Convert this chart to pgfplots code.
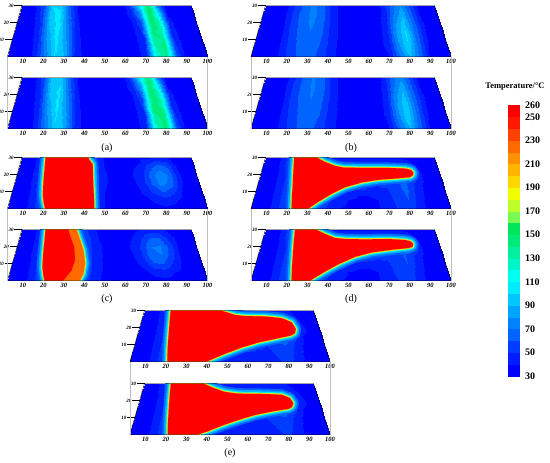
\documentclass[border=0pt]{standalone}
\usepackage{fontspec}
\setmainfont{Liberation Serif}
\usepackage{pgfplots}
\usepackage{pgfplotstable}
\pgfplotsset{compat=1.18}
\pgfkeys{/pgf/number format/assume math mode=true}

\definecolor{hA}{RGB}{0,100,255}
\definecolor{hB}{RGB}{0,165,255}
\definecolor{hC}{RGB}{0,235,255}
\definecolor{hD}{RGB}{190,255,40}
\definecolor{hE}{RGB}{255,180,0}
\definecolor{hot}{RGB}{255,0,0}
\definecolor{warm}{RGB}{255,105,0}

\pgfplotsset{
  colormap={temp}{
    rgb255(30pt)=(0,0,255) rgb255(40pt)=(0,30,255) rgb255(50pt)=(0,60,255)
    rgb255(60pt)=(0,100,255) rgb255(70pt)=(0,130,255) rgb255(80pt)=(0,165,255)
    rgb255(90pt)=(0,200,255) rgb255(100pt)=(0,235,255) rgb255(110pt)=(0,255,240)
    rgb255(120pt)=(0,245,200) rgb255(130pt)=(0,240,160) rgb255(140pt)=(0,235,120)
    rgb255(150pt)=(0,230,90) rgb255(160pt)=(120,250,80) rgb255(170pt)=(190,255,40)
    rgb255(180pt)=(240,255,0) rgb255(190pt)=(255,215,0) rgb255(200pt)=(255,180,0)
    rgb255(210pt)=(255,145,0) rgb255(220pt)=(255,105,0) rgb255(230pt)=(255,65,0)
    rgb255(240pt)=(255,25,0) rgb255(250pt)=(255,0,0) rgb255(260pt)=(255,0,0)},
  table/tx/.style={x expr={2.5+0.2357*\thisrow{y}+(\thisrow{x}-2.5)*(1-0.00517*\thisrow{y})}, y=y},
  panel/.style={
    scale only axis, width=200pt, height=51pt, anchor=south west,
    xmin=2.5, xmax=100, ymin=0, ymax=30,
    axis x line*=bottom, axis y line=none,
    x axis line style={draw=none}, xtick style={draw=none},
    xtick={10,20,...,100},
    xticklabel style={font=\fontsize{6.5}{7}\selectfont\bfseries\itshape, yshift=1pt},
    clip=true, clip mode=individual,
    colormap name=temp, colormap access=piecewise constant,
    point meta min=30, point meta max=260,
  },
}

% background fields: x y upper lower
\pgfplotstableread{
x y u l
2.5 0 33 33
10 0 33 33
15 0 42 41
20 0 70 68
25 0 100 98
30 0 90 88
35 0 50 49
40 0 36 36
45 0 33 33
50 0 33 33
55 0 33 33
60 0 34 34
65 0 36 36
70 0 45 47
75 0 120 125
80 0 140 145
85 0 58 58
90 0 35 35
95 0 33 33
100 0 33 33
2.5 5 33 33
10 5 33 33
15 5 43 42
20 5 75 73
25 5 102 100
30 5 85 84
35 5 47 46
40 5 35 35
45 5 33 33
50 5 33 33
55 5 33 33
60 5 34 34
65 5 36 36
70 5 46 48
75 5 128 132
80 5 142 145
85 5 55 55
90 5 35 35
95 5 33 33
100 5 33 33
2.5 10 33 33
10 10 33 33
15 10 45 44
20 10 80 78
25 10 104 102
30 10 80 80
35 10 45 45
40 10 35 35
45 10 33 33
50 10 33 33
55 10 33 33
60 10 34 34
65 10 37 37
70 10 48 50
75 10 135 140
80 10 140 142
85 10 52 52
90 10 35 35
95 10 33 33
100 10 33 33
2.5 15 33 33
10 15 34 34
15 15 47 46
20 15 86 84
25 15 105 103
30 15 75 75
35 15 43 43
40 15 34 34
45 15 33 33
50 15 33 33
55 15 33 33
60 15 34 34
65 15 38 38
70 15 52 54
75 15 142 146
80 15 135 135
85 15 48 48
90 15 34 34
95 15 33 33
100 15 33 33
2.5 20 33 33
10 20 34 34
15 20 50 49
20 20 92 90
25 20 104 102
30 20 70 70
35 20 42 42
40 20 34 34
45 20 33 33
50 20 33 33
55 20 33 33
60 20 35 35
65 20 40 40
70 20 60 62
75 20 148 150
80 20 125 124
85 20 45 45
90 20 34 34
95 20 33 33
100 20 33 33
2.5 25 33 33
10 25 36 36
15 25 55 54
20 25 98 96
25 25 102 100
30 25 65 65
35 25 40 40
40 25 34 34
45 25 33 33
50 25 33 33
55 25 33 33
60 25 35 35
65 25 45 46
70 25 80 82
75 25 152 150
80 25 105 104
85 25 40 40
90 25 34 34
95 25 33 33
100 25 33 33
2.5 30 33 33
10 30 38 38
15 30 60 58
20 30 100 98
25 30 98 96
30 30 60 60
35 30 40 40
40 30 34 34
45 30 33 33
50 30 33 33
55 30 33 33
60 30 36 36
65 30 52 53
70 30 100 102
75 30 152 150
80 30 85 84
85 30 38 38
90 30 34 34
95 30 33 33
100 30 33 33
}\tabA

\pgfplotstableread{
x y u l
2.5 0 33 33
10 0 34 34
15 0 40 40
20 0 52 51
25 0 62 61
30 0 65 64
35 0 58 57
40 0 46 45
45 0 38 38
50 0 35 35
55 0 34 34
60 0 34 34
65 0 36 36
70 0 40 40
75 0 70 68
80 0 92 90
85 0 65 63
90 0 40 40
95 0 34 34
100 0 33 33
2.5 5 33 33
10 5 34 34
15 5 40 40
20 5 53 52
25 5 63 62
30 5 66 65
35 5 60 59
40 5 47 46
45 5 38 38
50 5 35 35
55 5 34 34
60 5 34 34
65 5 36 36
70 5 42 41
75 5 75 73
80 5 98 96
85 5 68 66
90 5 40 40
95 5 34 34
100 5 33 33
2.5 10 33 33
10 10 34 34
15 10 40 40
20 10 54 53
25 10 64 63
30 10 68 67
35 10 62 61
40 10 48 47
45 10 38 38
50 10 35 35
55 10 34 34
60 10 34 34
65 10 37 37
70 10 43 42
75 10 78 76
80 10 100 98
85 10 70 68
90 10 41 41
95 10 34 34
100 10 33 33
2.5 15 33 33
10 15 34 34
15 15 40 40
20 15 55 54
25 15 65 64
30 15 70 69
35 15 64 63
40 15 49 48
45 15 38 38
50 15 35 35
55 15 34 34
60 15 34 34
65 15 37 37
70 15 43 42
75 15 78 76
80 15 100 97
85 15 70 68
90 15 41 41
95 15 34 34
100 15 33 33
2.5 20 33 33
10 20 34 34
15 20 40 40
20 20 55 54
25 20 66 65
30 20 72 71
35 20 66 65
40 20 50 49
45 20 38 38
50 20 35 35
55 20 34 34
60 20 34 34
65 20 37 37
70 20 43 42
75 20 76 74
80 20 96 93
85 20 68 66
90 20 41 41
95 20 34 34
100 20 33 33
2.5 25 33 33
10 25 34 34
15 25 39 39
20 25 54 53
25 25 65 64
30 25 73 72
35 25 67 66
40 25 50 49
45 25 38 38
50 25 35 35
55 25 34 34
60 25 34 34
65 25 37 37
70 25 42 42
75 25 70 68
80 25 88 86
85 25 65 63
90 25 40 40
95 25 34 34
100 25 33 33
2.5 30 33 33
10 30 34 34
15 30 38 38
20 30 52 51
25 30 64 63
30 30 72 71
35 30 66 65
40 30 50 49
45 30 38 38
50 30 35 35
55 30 34 34
60 30 34 34
65 30 36 36
70 30 42 41
75 30 65 64
80 30 80 78
85 30 62 60
90 30 40 40
95 30 34 34
100 30 33 33
}\tabB

\pgfplotstableread{
x y u l
2.5 0 33 33
10 0 36 36
15 0 48 48
20 0 60 60
25 0 70 70
30 0 70 70
35 0 70 70
40 0 70 55
45 0 55 42
50 0 40 37
55 0 36 35
60 0 34 34
65 0 33 33
70 0 34 34
75 0 36 36
80 0 38 37
85 0 36 35
90 0 33 33
95 0 33 33
100 0 33 33
2.5 5 33 33
10 5 36 36
15 5 50 50
20 5 70 70
25 5 70 70
30 5 70 70
35 5 70 70
40 5 70 58
45 5 55 44
50 5 40 38
55 5 36 35
60 5 34 34
65 5 34 35
70 5 37 38
75 5 42 44
80 5 45 45
85 5 42 40
90 5 35 35
95 5 33 33
100 5 33 33
2.5 10 33 33
10 10 36 36
15 10 52 52
20 10 70 70
25 10 70 70
30 10 70 70
35 10 70 70
40 10 70 60
45 10 55 45
50 10 40 38
55 10 36 35
60 10 35 35
65 10 36 37
70 10 42 44
75 10 52 58
80 10 60 60
85 10 52 48
90 10 38 37
95 10 33 33
100 10 33 33
2.5 15 33 33
10 15 37 37
15 15 54 54
20 15 70 70
25 15 70 70
30 15 70 70
35 15 70 70
40 15 70 60
45 15 55 45
50 15 41 38
55 15 37 36
60 15 35 36
65 15 38 40
70 15 45 50
75 15 62 68
80 15 75 70
85 15 65 55
90 15 42 40
95 15 34 34
100 15 33 33
2.5 20 33 33
10 20 37 37
15 20 55 55
20 20 70 70
25 20 70 70
30 20 70 70
35 20 70 70
40 20 70 58
45 20 55 44
50 20 41 38
55 20 37 36
60 20 36 36
65 20 40 42
70 20 46 52
75 20 65 70
80 20 78 72
85 20 68 58
90 20 42 40
95 20 34 34
100 20 33 33
2.5 25 33 33
10 25 38 38
15 25 56 56
20 25 70 70
25 25 70 70
30 25 70 70
35 25 70 70
40 25 70 55
45 25 55 42
50 25 40 37
55 25 36 36
60 25 35 35
65 25 38 40
70 25 42 48
75 25 55 60
80 25 65 62
85 25 58 50
90 25 40 38
95 25 33 33
100 25 33 33
2.5 30 33 33
10 30 38 38
15 30 56 56
20 30 70 70
25 30 70 70
30 30 70 70
35 30 70 60
40 30 70 50
45 30 52 40
50 30 40 36
55 30 36 35
60 30 34 34
65 30 35 36
70 30 38 40
75 30 40 45
80 30 45 46
85 30 42 40
90 30 36 35
95 30 33 33
100 30 33 33
}\tabC

\pgfplotstableread{
x y u l
2.5 0 33 33
10 0 36 36
15 0 48 48
20 0 60 60
25 0 70 70
30 0 70 70
35 0 55 56
40 0 45 46
45 0 40 40
50 0 38 38
55 0 38 38
60 0 38 38
65 0 40 40
70 0 45 45
75 0 52 51
80 0 58 56
85 0 45 45
90 0 36 36
95 0 33 33
100 0 33 33
2.5 5 33 33
10 5 36 36
15 5 48 48
20 5 60 60
25 5 70 70
30 5 70 70
35 5 70 70
40 5 52 55
45 5 44 45
50 5 40 40
55 5 38 38
60 5 38 38
65 5 40 40
70 5 46 46
75 5 54 53
80 5 60 58
85 5 46 46
90 5 36 36
95 5 33 33
100 5 33 33
2.5 10 33 33
10 10 36 36
15 10 48 48
20 10 60 60
25 10 70 70
30 10 70 70
35 10 70 70
40 10 70 70
45 10 55 62
50 10 46 48
55 10 42 43
60 10 42 42
65 10 44 44
70 10 48 48
75 10 56 55
80 10 62 60
85 10 48 48
90 10 37 37
95 10 33 33
100 10 33 33
2.5 15 33 33
10 15 36 36
15 15 48 48
20 15 60 60
25 15 70 70
30 15 70 70
35 15 70 70
40 15 70 70
45 15 70 70
50 15 70 70
55 15 70 70
60 15 56 60
65 15 52 54
70 15 52 52
75 15 58 57
80 15 62 61
85 15 50 50
90 15 38 38
95 15 33 33
100 15 33 33
2.5 20 33 33
10 20 36 36
15 20 48 48
20 20 60 60
25 20 70 70
30 20 70 70
35 20 70 70
40 20 70 70
45 20 70 70
50 20 70 70
55 20 70 70
60 20 70 70
65 20 70 70
70 20 70 70
75 20 70 70
80 20 70 70
85 20 60 62
90 20 40 40
95 20 34 34
100 20 33 33
2.5 25 33 33
10 25 36 36
15 25 50 50
20 25 60 60
25 25 70 70
30 25 70 70
35 25 70 70
40 25 70 70
45 25 60 60
50 25 55 55
55 25 55 55
60 25 55 55
65 25 55 55
70 25 55 55
75 25 55 55
80 25 55 55
85 25 45 45
90 25 36 36
95 25 33 33
100 25 33 33
2.5 30 33 33
10 30 38 38
15 30 52 52
20 30 70 70
25 30 70 70
30 30 70 70
35 30 60 60
40 30 45 45
45 30 40 40
50 30 40 40
55 30 40 40
60 30 40 40
65 30 40 40
70 30 40 40
75 30 40 40
80 30 40 40
85 30 38 38
90 30 35 35
95 30 33 33
100 30 33 33
}\tabD

\pgfplotstableread{
x y u l
2.5 0 33 33
10 0 36 36
15 0 48 48
20 0 60 60
25 0 70 70
30 0 70 70
35 0 70 70
40 0 55 52
45 0 46 45
50 0 42 42
55 0 40 40
60 0 40 40
65 0 40 40
70 0 42 42
75 0 48 47
80 0 54 52
85 0 44 43
90 0 36 36
95 0 33 33
100 0 33 33
2.5 5 33 33
10 5 36 36
15 5 48 48
20 5 60 60
25 5 70 70
30 5 70 70
35 5 70 70
40 5 70 70
45 5 70 55
50 5 55 46
55 5 46 44
60 5 44 43
65 5 44 44
70 5 46 46
75 5 52 51
80 5 58 56
85 5 46 45
90 5 36 36
95 5 33 33
100 5 33 33
2.5 10 33 33
10 10 36 36
15 10 48 48
20 10 60 60
25 10 70 70
30 10 70 70
35 10 70 70
40 10 70 70
45 10 70 70
50 10 70 70
55 10 70 60
60 10 70 50
65 10 55 48
70 10 50 50
75 10 55 54
80 10 60 58
85 10 48 47
90 10 37 37
95 10 33 33
100 10 33 33
2.5 15 33 33
10 15 36 36
15 15 48 48
20 15 60 60
25 15 70 70
30 15 70 70
35 15 70 70
40 15 70 70
45 15 70 70
50 15 70 70
55 15 70 70
60 15 70 70
65 15 70 70
70 15 70 70
75 15 70 70
80 15 70 70
85 15 56 55
90 15 40 40
95 15 34 34
100 15 33 33
2.5 20 33 33
10 20 36 36
15 20 48 48
20 20 60 60
25 20 70 70
30 20 70 70
35 20 70 70
40 20 70 70
45 20 70 70
50 20 70 70
55 20 70 70
60 20 70 70
65 20 70 70
70 20 70 70
75 20 70 70
80 20 70 70
85 20 65 65
90 20 45 45
95 20 35 35
100 20 33 33
2.5 25 33 33
10 25 36 36
15 25 50 50
20 25 60 60
25 25 70 70
30 25 70 70
35 25 70 70
40 25 70 70
45 25 70 70
50 25 70 60
55 25 70 55
60 25 70 55
65 25 70 55
70 25 70 55
75 25 70 55
80 25 70 55
85 25 55 50
90 25 40 40
95 25 34 34
100 25 33 33
2.5 30 33 33
10 30 38 38
15 30 55 55
20 30 70 70
25 30 70 70
30 30 70 70
35 30 70 70
40 30 70 50
45 30 70 45
50 30 50 42
55 30 45 42
60 30 45 42
65 30 45 42
70 30 45 42
75 30 45 42
80 30 45 42
85 30 42 40
90 30 36 36
95 30 33 33
100 30 33 33
}\tabE

% outlines of the hot zones (>= 250 C)
\pgfplotstableread{
x y
20.8 0
19.5 4
18.5 8
17.6 15.2
16.8 23
16.1 30
40.8 30
41.5 28.5
43.4 26
44.0 15.2
44.7 3.3
44.8 0
20.8 0
}\shpCa
\pgfplotstableread{
x y
20.5 0
19.3 4
18.3 8
17.5 15
16.8 23
16.1 30
34.0 30
36.3 24
38.6 18
39.9 10
39.3 4
37.8 0
20.5 0
}\shpCbo
\pgfplotstableread{
x y
20.5 0
19.3 4
18.3 8
17.5 15
16.8 23
16.1 30
29.3 30
30.7 26
33.5 20
34.6 12
33.3 6
30.4 1
29.7 0
20.5 0
}\shpCbr
\pgfplotstableread{
x y
22.3 0
21.5 7
20.9 13.7
20.0 21.6
19.1 30
32.0 30
37.0 27.4
42.8 25.1
47.4 24.1
57.6 23.9
70.6 23.9
81.7 23.5
84.8 22.7
85.8 21.2
85.2 19.5
83.3 18.4
75.2 17.6
66.2 16.9
57.2 15.3
48.3 12.5
41.5 8.6
35.0 3.9
30.45 0
22.3 0
}\shpDa
\pgfplotstableread{
x y
22.3 0
21.5 7
20.9 13.7
20.2 21.6
19.5 30
31.6 30
37.0 27.4
42.75 25.0
48.3 24.4
59.5 24.2
72.5 24.4
81.7 23.8
84.9 22.9
85.8 21.5
85.0 19.8
82.6 19.1
73.5 18.1
62.5 16.5
53.6 13.9
44.9 9.5
38.3 5.2
31.3 0
22.3 0
}\shpDb
\pgfplotstableread{
x y
20.7 0
19.8 7
19.15 13.7
18.4 21.6
17.6 30
46.1 30
50.5 28.8
54.6 27.4
60.3 26.7
71.5 26.5
80.7 25.5
85.8 23.1
87.2 19.2
86.2 16.6
83.8 15.3
75.1 13.3
66.15 11.2
57.3 8.2
48.8 4.5
39.9 0
20.7 0
}\shpEa
\pgfplotstableread{
x y
20.9 0
20.0 7
19.3 13.7
18.5 21.6
17.7 30
36.4 30
42.3 27.4
48.9 25.0
56.3 24.0
71.1 23.8
80.3 23.4
84.5 21.5
85.7 18.5
84.6 16.2
82.4 15.1
73.4 13.5
64.4 11.5
55.6 8.5
47.2 5.2
40.6 2.0
35.5 0
20.9 0
}\shpEb

\newcommand{\halo}[1]{%
  \addplot[draw=hA, line width=11pt, line join=round, line cap=round] table[tx] {#1};
  \addplot[draw=hB, line width=7.5pt, line join=round, line cap=round] table[tx] {#1};
  \addplot[draw=hC, line width=4.5pt, line join=round, line cap=round] table[tx] {#1};
  \addplot[draw=hD, line width=2.4pt, line join=round, line cap=round] table[tx] {#1};
  \addplot[draw=hE, line width=1.2pt, line join=round, line cap=round] table[tx] {#1};
}
\newcommand{\zone}[2]{\addplot[fill=#1, draw=none] table[tx] {#2};}

\newcommand{\ylabs}{%
  \draw[black, line width=0.3pt] (axis cs:4.857,10) -- ++(-2.5pt,0)
     node[left, inner sep=0.6pt, font=\fontsize{5}{5}\selectfont\bfseries\itshape] {10};
  \draw[black, line width=0.3pt] (axis cs:7.214,20) -- ++(-2.5pt,0)
     node[left, inner sep=0.6pt, font=\fontsize{5}{5}\selectfont\bfseries\itshape] {20};
  \draw[black, line width=0.3pt] (axis cs:9.57,30) -- ++(-2.5pt,0)
     node[left, inner sep=0.6pt, font=\fontsize{5}{5}\selectfont\bfseries\itshape] {30};
}
\newcommand{\panel}[5]{%
  \begin{axis}[panel, name=#1, at={#2}]
    \addplot[surf, shader=interp, mesh/cols=20, point meta=\thisrow{#4}] table[tx] {#3};
    #5
    \draw[black, line width=0.45pt] (axis cs:2.5,0) -- (axis cs:100,0) -- (axis cs:91.95,30) -- (axis cs:9.57,30) -- cycle;
    \ylabs
  \end{axis}%
}

\begin{document}
\begin{tikzpicture}
\path[use as bounding box] (0,0) rectangle (550pt,-463pt);

\panel{a1}{(7.5pt,-56.5pt)}{\tabA}{u}{}
\panel{a2}{(7.5pt,-128.5pt)}{\tabA}{l}{}
\panel{b1}{(251pt,-56.5pt)}{\tabB}{u}{}
\panel{b2}{(251pt,-128.5pt)}{\tabB}{l}{}
\panel{c1}{(7.5pt,-208.5pt)}{\tabC}{u}{\halo{\shpCa}\zone{hot}{\shpCa}}
\panel{c2}{(7.5pt,-280.5pt)}{\tabC}{l}{\halo{\shpCbo}\zone{warm}{\shpCbo}\zone{hot}{\shpCbr}}
\panel{d1}{(251pt,-208.5pt)}{\tabD}{u}{\halo{\shpDa}\zone{hot}{\shpDa}}
\panel{d2}{(251pt,-280.5pt)}{\tabD}{l}{\halo{\shpDb}\zone{hot}{\shpDb}}
\panel{e1}{(130pt,-361.5pt)}{\tabE}{u}{\halo{\shpEa}\zone{hot}{\shpEa}}
\panel{e2}{(130pt,-434.5pt)}{\tabE}{l}{\halo{\shpEb}\zone{hot}{\shpEb}}

\foreach \p/\q in {a1/a2,b1/b2,c1/c2,d1/d2,e1/e2}{
  \draw[black!25, line width=0.5pt] (\p.south west) -- (\q.south west);
  \draw[black!25, line width=0.5pt] (\p.south east) -- (\q.south east);
}

\node[font=\fontsize{10}{11}\selectfont] at (107pt,-148pt) {(a)};
\node[font=\fontsize{10}{11}\selectfont] at (351pt,-148pt) {(b)};
\node[font=\fontsize{10}{11}\selectfont] at (107pt,-299pt) {(c)};
\node[font=\fontsize{10}{11}\selectfont] at (351pt,-299pt) {(d)};
\node[font=\fontsize{10}{11}\selectfont] at (230pt,-453pt) {(e)};

\node[font=\fontsize{8.5}{9}\selectfont\bfseries] at (515pt,-87pt) {Temperature/°C};

\begin{axis}[at={(499pt,-376pt)}, anchor=south west, scale only axis,
    width=13pt, height=271pt, hide axis, xmin=0, xmax=1, ymin=0, ymax=1,
    colormap name=temp, colormap access=piecewise constant,
    point meta min=30, point meta max=260,
    colorbar,
    colorbar style={at={(parent axis.south west)}, anchor=south west,
      scale only axis, width=13pt, height=271pt,
      ytick={30,50,...,250,260},
      yticklabel style={font=\fontsize{10}{10}\selectfont\bfseries, xshift=1pt},
      axis line style={draw=none}, major tick length=0pt}]
\end{axis}
\end{tikzpicture}
\end{document}
